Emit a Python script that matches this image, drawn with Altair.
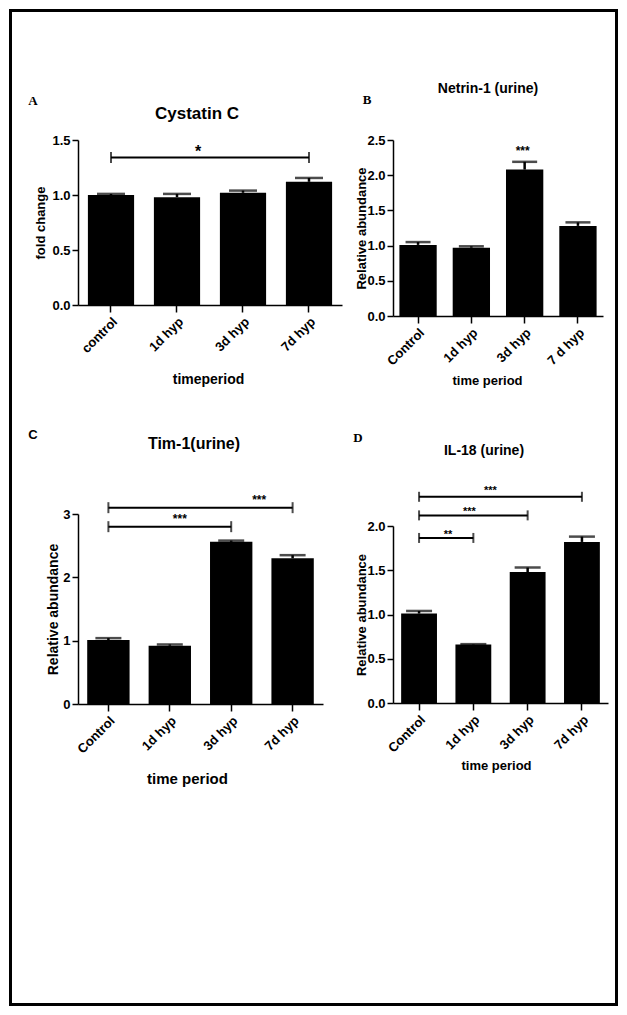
import altair as alt
import pandas as pd

# ---------------- data ----------------
# Panel A: Cystatin C
cats_A = ["control", "1d hyp", "3d hyp", "7d hyp"]
vals_A = [1.00, 0.98, 1.02, 1.12]
errs_A = [0.01, 0.03, 0.02, 0.035]
brk_from_A = ["control"]
brk_to_A = ["7d hyp"]
brk_level_A = [1.34]
star_text_A = ["*"]
star_cat_A = ["1d hyp"]
star_level_A = [1.43]

# Panel B: Netrin-1 (urine)
cats_B = ["Control", "1d hyp", "3d hyp", "7 d hyp"]
vals_B = [1.01, 0.97, 2.08, 1.28]
errs_B = [0.04, 0.02, 0.11, 0.05]
brk_from_B = []
brk_to_B = []
brk_level_B = []
star_text_B = ["***"]
star_cat_B = ["3d hyp"]
star_level_B = [2.38]

# Panel C: Tim-1(urine)
cats_C = ["Control", "1d hyp", "3d hyp", "7d hyp"]
vals_C = [1.01, 0.92, 2.56, 2.30]
errs_C = [0.03, 0.02, 0.02, 0.05]
brk_from_C = ["Control", "Control"]
brk_to_C = ["3d hyp", "7d hyp"]
brk_level_C = [2.80, 3.10]
star_text_C = ["***", "***"]
star_cat_C = ["1d hyp", "3d hyp"]
star_level_C = [2.97, 3.27]

# Panel D: IL-18 (urine)
cats_D = ["Control", "1d hyp", "3d hyp", "7d hyp"]
vals_D = [1.01, 0.66, 1.48, 1.82]
errs_D = [0.03, 0.005, 0.05, 0.06]
brk_from_D = ["Control", "Control", "Control"]
brk_to_D = ["1d hyp", "3d hyp", "7d hyp"]
brk_level_D = [1.865, 2.12, 2.33]
star_text_D = ["**", "***", "***"]
star_cat_D = ["Control", "1d hyp", "1d hyp"]
star_level_D = [1.93, 2.19, 2.43]

SANS = "Liberation Sans"
SERIF = "Liberation Serif"


def panel(cats, vals, errs, bfrom, bto, blevel, stext, scat, slevel, st):
    df = pd.DataFrame({"cat": cats, "val": vals,
                       "up": [v + e for v, e in zip(vals, errs)]})
    xs = alt.Scale(domain=cats, paddingInner=st["pi"], paddingOuter=st["po"])
    yargs = dict(domain=st["ydom"], nice=False, zero=True)
    if "yrange" in st:
        yargs["range"] = st["yrange"]
    ys = alt.Scale(**yargs)

    xaxis = alt.Axis(
        title=st["xtitle"], labelAngle=-45, labelAlign="right", labelBaseline="top",
        labelFont=SANS, labelFontWeight="bold", labelFontSize=13, labelColor="black",
        labelPadding=3, tickSize=7, tickWidth=1.5, tickColor="black", bandPosition=0.5,
        domainColor="black", domainWidth=1.5, grid=False, labelOverlap=False,
        titleFont=SANS, titleFontWeight="bold", titleFontSize=st["xtsize"],
        titleColor="black", titleX=st["xtx"], titleY=st["xty"],
        titleBaseline="middle", titleAlign="center")
    yaxis = alt.Axis(
        title=st["ytitle"], values=st["yvals"], format=st["yfmt"],
        tickCount=len(st["yvals"]),
        labelFont=SANS, labelFontWeight="bold", labelFontSize=13, labelColor="black",
        labelPadding=2, tickSize=6, tickWidth=1.5, tickColor="black",
        domainColor="black", domainWidth=1.5, grid=False, labelOverlap=False,
        titleFont=SANS, titleFontWeight="bold", titleFontSize=st["ytsize"],
        titleColor="black", titleX=st["ytx"], titleBaseline="middle")

    X = lambda f: alt.X(f, scale=xs, axis=xaxis)
    Y = lambda f: alt.Y(f, scale=ys, axis=yaxis)

    layers = []
    if st.get("frame"):
        one = pd.DataFrame({"k": [0]})
        layers.append(alt.Chart(one).mark_rect(
            fill="white", fillOpacity=0, stroke="black", strokeWidth=3).encode(
            x=alt.value(-67.5), x2=alt.value(538.5),
            y=alt.value(-129.5), y2=alt.value(864.5)))

    layers.append(alt.Chart(df).mark_bar(color="black").encode(
        x=X("cat:N"), y=Y("val:Q")))
    layers.append(alt.Chart(df).mark_rule(color="black", strokeWidth=2.5).encode(
        x=X("cat:N"), y=Y("val:Q"), y2=alt.Y2("up:Q")))
    layers.append(alt.Chart(df).mark_tick(
        color="black", orient="horizontal", size=st["cap"], thickness=2.5).encode(
        x=X("cat:N"), y=Y("up:Q")))

    if bfrom:
        dfb = pd.DataFrame({"cat": bfrom, "cat2": bto, "level": blevel})
        dfe = pd.DataFrame({"cat": list(bfrom) + list(bto),
                            "level": list(blevel) + list(blevel)})
        layers.append(alt.Chart(dfb).mark_rule(color="black", strokeWidth=2).encode(
            x=X("cat:N"), x2=alt.X2("cat2:N"), y=Y("level:Q")))
        layers.append(alt.Chart(dfe).mark_tick(
            color="black", orient="vertical", size=st["endsize"], thickness=2).encode(
            x=X("cat:N"), y=Y("level:Q")))

    for i, (t, c, l) in enumerate(zip(stext, scat, slevel)):
        dfs = pd.DataFrame({"cat": [c], "level": [l], "s": [t]})
        layers.append(alt.Chart(dfs).mark_text(
            font=SANS, fontWeight="bold", fontSize=st["starsize"], color="black",
            baseline="middle", align="center", dx=st["stardx"][i],
            dy=st["stardy"]).encode(
            x=X("cat:N"), y=Y("level:Q"), text="s:N"))

    one = pd.DataFrame({"k": [0]})
    layers.append(alt.Chart(one).mark_text(
        font=SANS, fontWeight="bold", fontSize=st["tsize"], color="black",
        baseline="middle", align="center").encode(
        x=alt.value(st["tx"]), y=alt.value(st["ty"]), text=alt.value(st["title"])))
    layers.append(alt.Chart(one).mark_text(
        font=st["lfont"], fontWeight="bold", fontSize=13, color="black",
        baseline="middle", align="center").encode(
        x=alt.value(st["lx"]), y=alt.value(st["ly"]), text=alt.value(st["letter"])))

    return alt.layer(*layers).properties(width=st["w"], height=st["h"])


stA = dict(pi=0.30, po=0.15, ydom=[0, 1.5], yvals=[0, 0.5, 1.0, 1.5], yfmt=".1f",
           xtitle="timeperiod", xtsize=14, xtx=130, xty=74,
           ytitle="fold change", ytsize=13, ytx=-38,
           cap=28, endsize=11, starsize=16, stardx=[21], stardy=4,
           title="Cystatin C", tsize=17, tx=119, ty=-26,
           letter="A", lfont=SERIF, lx=-45, ly=-39, w=264, h=165, frame=True)
stB = dict(pi=0.30, po=0.12, ydom=[0, 2.5], yvals=[0, 0.5, 1.0, 1.5, 2.0, 2.5], yfmt=".1f",
           xtitle="time period", xtsize=13, xtx=94, xty=64,
           ytitle="Relative abundance", ytsize=13, ytx=-32,
           cap=25, endsize=10, starsize=12, stardx=[-2], stardy=3,
           title="Netrin-1 (urine)", tsize=14, tx=95, ty=-51,
           letter="B", lfont=SERIF, lx=-26, ly=-40, w=210, h=176)
stC = dict(pi=0.31, po=0.15, ydom=[0, 3], yvals=[0, 1, 2, 3], yfmt="d",
           xtitle="time period", xtsize=15, xtx=109, xty=74,
           ytitle="Relative abundance", ytsize=14, ytx=-25,
           cap=26, endsize=11, starsize=12, stardx=[10, 28], stardy=3,
           title="Tim-1(urine)", tsize=16, tx=116, ty=-70,
           letter="C", lfont=SANS, lx=-45, ly=-79, w=245, h=190)
stD = dict(pi=0.34, po=0.15, ydom=[0, 2.0], yvals=[0, 0.5, 1.0, 1.5, 2.0], yfmt=".1f",
           yrange=[189, 12],
           xtitle="time period", xtsize=13, xtx=103, xty=62,
           ytitle="Relative abundance", ytsize=13, ytx=-32,
           cap=26, endsize=10, starsize=11, stardx=[29, -4, 17], stardy=3,
           title="IL-18 (urine)", tsize=14, tx=91, ty=-63,
           letter="D", lfont=SERIF, lx=-35, ly=-76, w=215, h=189)

pA = panel(cats_A, vals_A, errs_A, brk_from_A, brk_to_A, brk_level_A,
           star_text_A, star_cat_A, star_level_A, stA)
pB = panel(cats_B, vals_B, errs_B, brk_from_B, brk_to_B, brk_level_B,
           star_text_B, star_cat_B, star_level_B, stB)
pC = panel(cats_C, vals_C, errs_C, brk_from_C, brk_to_C, brk_level_C,
           star_text_C, star_cat_C, star_level_C, stC)
pD = panel(cats_D, vals_D, errs_D, brk_from_D, brk_to_D, brk_level_D,
           star_text_D, star_cat_D, star_level_D, stD)

chart = alt.concat(
    pA, pB, pC, pD, columns=2,
    spacing={"row": 184, "column": 51}, bounds="flush", align="all"
).properties(padding=0, background="white").configure_view(
    stroke="transparent").configure_axis(grid=False)

chart.save("out.html", embed_options={"renderer": "svg", "actions": False})
